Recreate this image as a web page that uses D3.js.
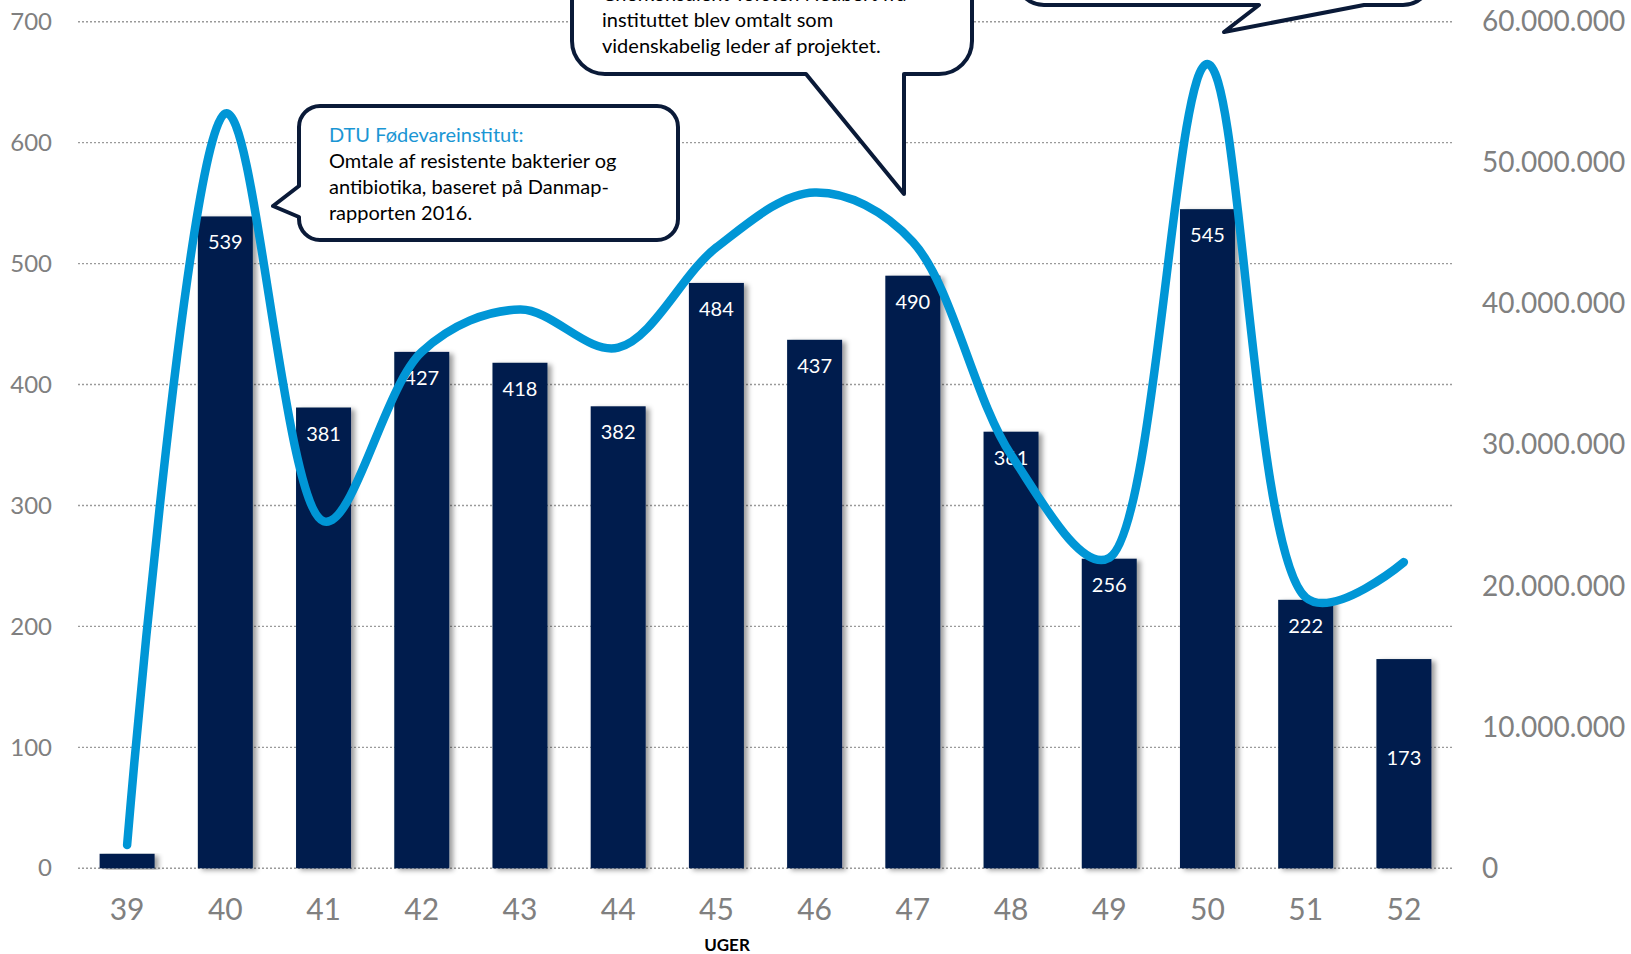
<!DOCTYPE html>
<html>
<head>
<meta charset="utf-8">
<script src="https://cdn.jsdelivr.net/npm/d3@7"></script>
<style>
  html, body { margin: 0; padding: 0; background: #ffffff; }
  svg { display: block; }
  text { font-family: Lato, "Open Sans", sans-serif; }
</style>
</head>
<body>
<svg id="chart" width="1631" height="954"></svg>
<script>
// ---- data ----
const weeks = ["39", "40", "41", "42", "43", "44", "45", "46", "47", "48", "49", "50", "51", "52"];
const articles = [12, 539, 381, 427, 418, 382, 484, 437, 490, 361, 256, 545, 222, 173];
const shownLabels = [false, true, true, true, true, true, true, true, true, true, true, true, true, true];
const reach = [1650000, 53500000, 24600000, 36600000, 39600000, 36900000, 44000000,
               47900000, 44400000, 29300000, 22000000, 57000000, 19200000, 21700000];
const leftTicks = [0, 100, 200, 300, 400, 500, 600, 700];
const rightTicks = [0, 10000000, 20000000, 30000000, 40000000, 50000000, 60000000];
const xTitle = "UGER";
const callout1 = ["Chefkonsulent Torsten Neubert fra", "instituttet blev omtalt som", "videnskabelig leder af projektet."];
const callout2Title = "DTU Fødevareinstitut:";
const callout2 = ["Omtale af resistente bakterier og", "antibiotika, baseret på Danmap-", "rapporten 2016."];

// ---- setup ----
const svg = d3.select("#chart");
const plot = { left: 78, right: 1453, top: 21.7, bottom: 868.3 };

const x = d3.scaleBand().domain(weeks).range([plot.left, plot.right]).paddingInner(0.44).paddingOuter(0.22);
const yL = d3.scaleLinear().domain([0, 700]).range([plot.bottom, plot.top]);
const yR = d3.scaleLinear().domain([0, 60000000]).range([plot.bottom, plot.top]);

const loc = d3.formatLocale({ decimal: ",", thousands: ".", grouping: [3], currency: ["", " kr"] });
const fmtR = loc.format(",d");

const defs = svg.append("defs");
const f = defs.append("filter").attr("id", "shadow").attr("x", "-20%").attr("y", "-5%").attr("width", "150%").attr("height", "115%");
f.append("feDropShadow").attr("dx", 4).attr("dy", 2).attr("stdDeviation", 2.5)
  .attr("flood-color", "#000").attr("flood-opacity", 0.38);

// gridlines
svg.append("g").selectAll("line").data(leftTicks).join("line")
  .attr("x1", plot.left).attr("x2", plot.right)
  .attr("y1", d => yL(d)).attr("y2", d => yL(d))
  .attr("stroke", "#9a9a9a").attr("stroke-width", 1.4).attr("stroke-dasharray", "2,2");

// left axis
const axL = svg.append("g").attr("transform", `translate(52,0)`)
  .call(d3.axisLeft(yL).tickValues(leftTicks).tickSize(0).tickPadding(0));
axL.select(".domain").remove();
axL.selectAll("text").attr("fill", "#808080").style("font-size", "24px").style("font-family", "Lato, sans-serif");

// right axis
const axR = svg.append("g").attr("transform", `translate(1482,0)`)
  .call(d3.axisRight(yR).tickValues(rightTicks).tickFormat(fmtR).tickSize(0).tickPadding(0));
axR.select(".domain").remove();
axR.selectAll("text").attr("fill", "#808080").style("font-size", "28px").style("font-family", "Lato, sans-serif");

// x axis
const axX = svg.append("g").attr("transform", `translate(0,${plot.bottom + 30})`)
  .call(d3.axisBottom(x).tickSize(0).tickPadding(0));
axX.select(".domain").remove();
axX.selectAll("text").attr("fill", "#808080").style("font-size", "30px").style("font-family", "Lato, sans-serif");

svg.append("text").attr("x", 727).attr("y", 950.5).attr("text-anchor", "middle")
  .style("font-size", "17px").style("font-weight", "bold").attr("fill", "#000").text(xTitle);

// bars
svg.append("g").selectAll("rect").data(articles).join("rect")
  .attr("x", (d, i) => x(weeks[i])).attr("width", x.bandwidth())
  .attr("y", d => yL(d)).attr("height", d => yL(0) - yL(d))
  .attr("fill", "#001f4d").attr("filter", "url(#shadow)");

// bar labels
const labelIdx = d3.range(weeks.length).filter(i => shownLabels[i]);
svg.append("g").selectAll("text").data(labelIdx).join("text")
  .attr("x", i => x(weeks[i]) + x.bandwidth() / 2)
  .attr("y", i => weeks[i] === "52" ? yL(articles[i] / 2) - 6 : yL(articles[i]) + 26)
  .attr("dy", "0.35em").attr("text-anchor", "middle")
  .attr("fill", "#fff").style("font-size", "20px").text(i => articles[i]);

// line
const line = d3.line()
  .x((d, i) => x(weeks[i]) + x.bandwidth() / 2)
  .y(d => yR(d))
  .curve(d3.curveCatmullRom.alpha(0.4));
svg.append("path").datum(reach).attr("d", line)
  .attr("fill", "none").attr("stroke", "#0096d6").attr("stroke-width", 8.5)
  .attr("stroke-linecap", "round").attr("stroke-linejoin", "round");

// callouts
const stroke = "#0a1a38";
function roundBoxBottomTail(x0, y0, x1, y1, r, tail) {
  const p = d3.path();
  p.moveTo(x0 + r, y0);
  p.lineTo(x1 - r, y0);
  p.arcTo(x1, y0, x1, y0 + r, r);
  p.lineTo(x1, y1 - r);
  p.arcTo(x1, y1, x1 - r, y1, r);
  p.lineTo(tail[0], y1);
  p.lineTo(tail[1], tail[2]);
  p.lineTo(tail[3], y1);
  p.lineTo(x0 + r, y1);
  p.arcTo(x0, y1, x0, y1 - r, r);
  p.lineTo(x0, y0 + r);
  p.arcTo(x0, y0, x0 + r, y0, r);
  p.closePath();
  return p.toString();
}
function roundBoxLeftTail(x0, y0, x1, y1, r, tail) {
  const p = d3.path();
  p.moveTo(x0 + r, y0);
  p.lineTo(x1 - r, y0);
  p.arcTo(x1, y0, x1, y0 + r, r);
  p.lineTo(x1, y1 - r);
  p.arcTo(x1, y1, x1 - r, y1, r);
  p.lineTo(x0 + r, y1);
  p.arcTo(x0, y1, x0, y1 - r, r);
  p.lineTo(x0, tail[0]);
  p.lineTo(tail[1], tail[2]);
  p.lineTo(x0, tail[3]);
  p.lineTo(x0, y0 + r);
  p.arcTo(x0, y0, x0 + r, y0, r);
  p.closePath();
  return p.toString();
}

// top-right (mostly off-canvas)
svg.append("path").attr("d", roundBoxBottomTail(1016, -90, 1431, 5, 28, [1364, 1224, 32, 1259]))
  .attr("fill", "#fff").attr("stroke", stroke).attr("stroke-width", 4).attr("stroke-linejoin", "round");

// middle callout
svg.append("path").attr("d", roundBoxBottomTail(572, -90, 972, 74, 33, [904, 904, 194, 806]))
  .attr("fill", "#fff").attr("stroke", stroke).attr("stroke-width", 4).attr("stroke-linejoin", "round");
svg.append("g").selectAll("text").data(callout1).join("text")
  .attr("x", 602).attr("y", (d, i) => 1 + i * 26)
  .attr("fill", "#000").style("font-size", "20px").text(d => d);

// left callout
svg.append("path").attr("d", roundBoxLeftTail(299, 106, 678, 240, 21, [217, 273, 206, 186]))
  .attr("fill", "#fff").attr("stroke", stroke).attr("stroke-width", 4).attr("stroke-linejoin", "round");
svg.append("text").attr("x", 329).attr("y", 142).attr("fill", "#1a96d4")
  .style("font-size", "20px").text(callout2Title);
svg.append("g").selectAll("text").data(callout2).join("text")
  .attr("x", 329).attr("y", (d, i) => 168 + i * 26)
  .attr("fill", "#000").style("font-size", "20px").text(d => d);
</script>
</body>
</html>
